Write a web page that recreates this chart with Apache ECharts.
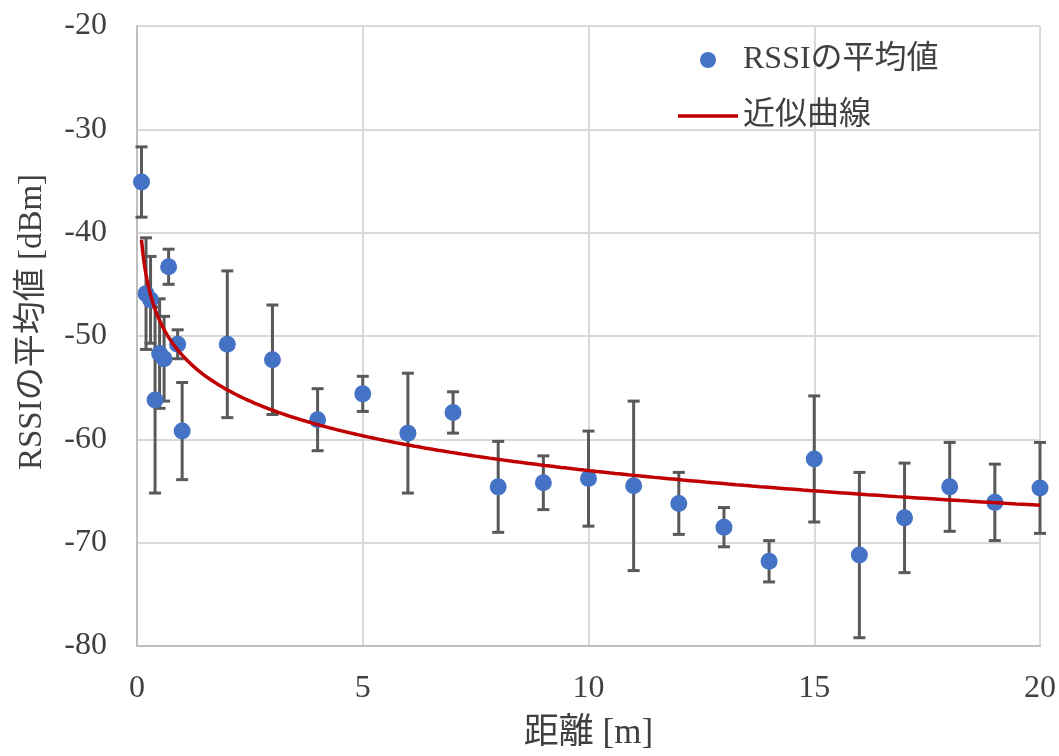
<!DOCTYPE html>
<html>
<head>
<meta charset="utf-8">
<script src="https://cdn.jsdelivr.net/npm/echarts@6/dist/echarts.min.js"></script>
<style>
  html, body { margin: 0; padding: 0; background: #fff; }
  #chart { width: 1059px; height: 756px; }
</style>
</head>
<body>
<div id="chart"></div>
<script>
// Measurement distances [m]
const distances = [0.1, 0.2, 0.3, 0.4, 0.5, 0.6, 0.7, 0.9, 1,
  2, 3, 4, 5, 6, 7, 8, 9, 10, 11, 12, 13, 14, 15, 16, 17, 18, 19, 20];
// Mean RSSI at each distance [dBm]
const rssiMean = [-35.1, -45.9, -46.5, -56.2, -51.7, -52.2, -43.3, -50.8, -59.2,
  -50.8, -52.3, -58.1, -55.6, -59.4, -57.4, -64.6, -64.2, -63.8, -64.5, -66.2,
  -68.5, -71.8, -61.9, -71.2, -67.6, -64.6, -66.1, -64.7];
// Error bar half-widths [dB]
const rssiErr = [3.4, 5.4, 4.2, 9.0, 5.3, 4.1, 1.7, 1.4, 4.7,
  7.1, 5.3, 3.0, 1.7, 5.8, 2.0, 4.4, 2.6, 4.6, 8.2, 3.0,
  1.9, 2.0, 6.1, 8.0, 5.3, 4.3, 3.7, 4.4];

// Logarithmic trend line y = slope * ln(x) + intercept, drawn over [start, end]
const trendCoef = { slope: -4.85, intercept: -51.85 };
const trendRange = [0.1, 20];

const xTicks = { min: 0, max: 20, interval: 5 };
const yTicks = { min: -80, max: -20, interval: 10 };

const seriesNames = ['RSSIの平均値', '近似曲線'];

const fitCurve = [];
for (let i = 0; i <= 400; i++) {
  const x = trendRange[0] * Math.pow(trendRange[1] / trendRange[0], i / 400);
  fitCurve.push([x, trendCoef.slope * Math.log(x) + trendCoef.intercept]);
}

const points = distances.map((d, i) => [d, rssiMean[i]]);
const errData = distances.map((d, i) => [d, rssiMean[i] - rssiErr[i], rssiMean[i] + rssiErr[i]]);

const latin = '"Liberation Serif", "Noto Sans CJK JP", serif';
const textColor = '#404040';

const chart = echarts.init(document.getElementById('chart'), null, { renderer: 'canvas' });
chart.setOption({
  animation: false,
  backgroundColor: '#ffffff',
  grid: { left: 137, right: 19, top: 26, bottom: 110, containLabel: false },
  legend: {
    orient: 'vertical',
    left: 673,
    top: 36,
    itemWidth: 60,
    itemHeight: 16,
    itemGap: 18,
    data: [
      { name: seriesNames[0], icon: 'circle' },
      { name: seriesNames[1], icon: 'path://M0,0 L60,0 L60,3.5 L0,3.5 Z' }
    ],
    textStyle: { fontFamily: latin, fontSize: 32, color: textColor, lineHeight: 38 }
  },
  xAxis: {
    type: 'value',
    min: xTicks.min, max: xTicks.max, interval: xTicks.interval,
    name: '距離 [m]',
    nameLocation: 'middle',
    nameGap: 70,
    nameTextStyle: { fontFamily: latin, fontSize: 35, color: textColor },
    axisLine: { show: true, onZero: false, lineStyle: { color: '#bfbfbf', width: 2 } },
    axisTick: { show: false },
    axisLabel: { margin: 27, fontFamily: latin, fontSize: 32, color: textColor },
    splitLine: { show: true, lineStyle: { color: '#d9d9d9', width: 2 } }
  },
  yAxis: {
    type: 'value',
    min: yTicks.min, max: yTicks.max, interval: yTicks.interval,
    name: 'RSSIの平均値 [dBm]',
    nameLocation: 'middle',
    nameGap: 88,
    nameRotate: 90,
    nameTextStyle: { fontFamily: latin, fontSize: 33, color: textColor, padding: [0, 0, 0, 28] },
    axisLine: { show: true, onZero: false, lineStyle: { color: '#bfbfbf', width: 2 } },
    axisTick: { show: false },
    axisLabel: { margin: 30, fontFamily: latin, fontSize: 32, color: textColor },
    splitLine: { show: true, lineStyle: { color: '#d9d9d9', width: 2 } }
  },
  series: [
    {
      name: 'errorbars',
      type: 'custom',
      z: 2,
      silent: true,
      data: errData,
      encode: { x: 0, y: [1, 2] },
      renderItem: function (params, api) {
        const x = api.value(0);
        const lo = api.coord([x, api.value(1)]);
        const hi = api.coord([x, api.value(2)]);
        const cap = 6;
        const style = { stroke: '#595959', lineWidth: 3, fill: null };
        return {
          type: 'group',
          children: [
            { type: 'line', shape: { x1: lo[0], y1: lo[1], x2: hi[0], y2: hi[1] }, style },
            { type: 'line', shape: { x1: lo[0] - cap, y1: lo[1], x2: lo[0] + cap, y2: lo[1] }, style },
            { type: 'line', shape: { x1: hi[0] - cap, y1: hi[1], x2: hi[0] + cap, y2: hi[1] }, style }
          ]
        };
      }
    },
    {
      name: seriesNames[0],
      type: 'scatter',
      z: 3,
      symbol: 'circle',
      symbolSize: 17,
      itemStyle: { color: '#4472c4', opacity: 1 },
      data: points
    },
    {
      name: seriesNames[1],
      type: 'line',
      z: 4,
      showSymbol: false,
      symbol: 'none',
      smooth: false,
      lineStyle: { color: '#c00000', width: 3.5 },
      itemStyle: { color: '#c00000' },
      data: fitCurve
    }
  ]
});
</script>
</body>
</html>
